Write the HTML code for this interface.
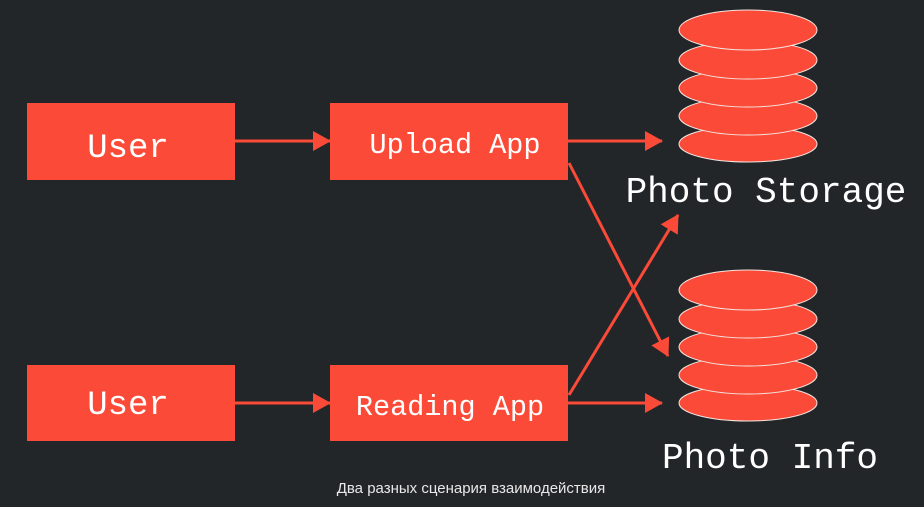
<!DOCTYPE html>
<html><head><meta charset="utf-8"><style>
html,body{margin:0;padding:0;background:#232629;}
svg{display:block}
</style></head><body>
<svg width="924" height="507" viewBox="0 0 924 507" xmlns="http://www.w3.org/2000/svg">
<rect width="924" height="507" fill="#232629"/>
<defs>
<marker id="b" markerWidth="18" markerHeight="20" refX="17" refY="10" orient="auto" markerUnits="userSpaceOnUse" viewBox="0 0 18 20"><path d="M0,0 L18,10 L0,20 z" fill="#fb4b38"/></marker></defs>
<g fill="#fb4b38">
<rect x="27" y="103" width="208" height="77"/>
<rect x="330" y="103" width="238" height="77"/>
<rect x="27" y="365" width="208" height="76"/>
<rect x="330" y="365" width="238" height="76"/>
</g>
<g stroke="#fb4b38" stroke-width="3" fill="none" marker-end="url(#b)">
<line x1="235" y1="141" x2="330" y2="141"/>
<line x1="568" y1="141" x2="662" y2="141"/>
<line x1="235" y1="403" x2="330" y2="403"/>
<line x1="568" y1="403" x2="662" y2="403"/>
<line x1="569" y1="163" x2="668" y2="356"/>
<line x1="569" y1="395" x2="678" y2="215"/>
</g>
<g fill="#fb4b38" stroke="#f3e6e2" stroke-width="1">
<ellipse cx="748" cy="144" rx="69" ry="18"/>
<ellipse cx="748" cy="116" rx="69" ry="19"/>
<ellipse cx="748" cy="88" rx="69" ry="19"/>
<ellipse cx="748" cy="60" rx="69" ry="19"/>
<ellipse cx="748" cy="30" rx="69" ry="20"/>
<ellipse cx="748" cy="403" rx="69" ry="18"/>
<ellipse cx="748" cy="375" rx="69" ry="19"/>
<ellipse cx="748" cy="347" rx="69" ry="19"/>
<ellipse cx="748" cy="319" rx="69" ry="19"/>
<ellipse cx="748" cy="290" rx="69" ry="20"/>
</g>
<g fill="#ffffff" font-family="'Liberation Mono',monospace">
<text x="128" y="157" font-size="34" text-anchor="middle">User</text>
<text x="128" y="414" font-size="34" text-anchor="middle">User</text>
<text x="455" y="153" font-size="28.5" text-anchor="middle">Upload App</text>
<text x="450" y="415" font-size="28.5" text-anchor="middle">Reading App</text>
<text x="766" y="202" font-size="36" text-anchor="middle">Photo Storage</text>
<text x="770" y="468" font-size="36" text-anchor="middle">Photo Info</text>
</g>
<text x="471" y="493" font-size="15" fill="#e8e8e8" text-anchor="middle" font-family="'Liberation Sans',sans-serif">Два разных сценария взаимодействия</text>
</svg>
</body></html>
